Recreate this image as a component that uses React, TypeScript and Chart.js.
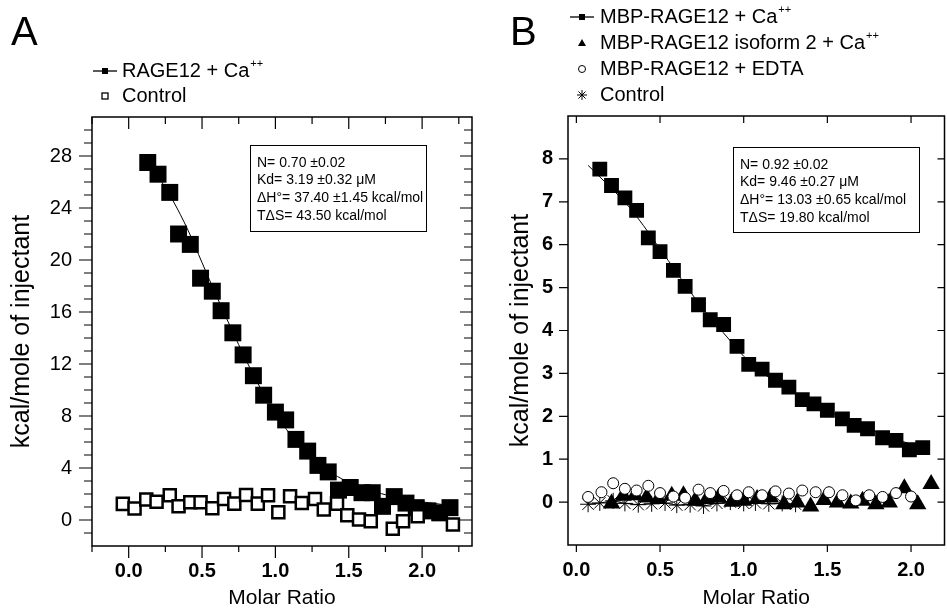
import React, { useEffect, useRef } from 'react';
import { Chart, registerables } from 'chart.js';

Chart.register(...registerables);

const FONT = "'Liberation Sans', Arial, Helvetica, sans-serif";

// ---------------- Panel A data ----------------
const aFilledX = [0.13, 0.20, 0.28, 0.34, 0.42, 0.49, 0.57, 0.63, 0.71, 0.78, 0.85, 0.92, 1.00, 1.07, 1.14, 1.22, 1.29, 1.36, 1.43, 1.51, 1.59, 1.66, 1.73, 1.81, 1.89, 1.96, 2.04, 2.12, 2.19];
const aFilledY = [27.5, 26.6, 25.2, 22.0, 21.2, 18.6, 17.6, 16.1, 14.4, 12.7, 11.1, 9.6, 8.3, 7.7, 6.2, 5.3, 4.2, 3.7, 2.3, 2.5, 2.1, 2.1, 1.05, 1.8, 1.3, 0.95, 0.7, 0.55, 0.95];
const aControlX = [-0.04, 0.04, 0.12, 0.19, 0.28, 0.34, 0.42, 0.49, 0.57, 0.65, 0.72, 0.80, 0.88, 0.95, 1.02, 1.10, 1.18, 1.27, 1.33, 1.42, 1.49, 1.57, 1.65, 1.80, 1.87, 1.97, 2.21];
const aControlY = [1.24, 0.88, 1.57, 1.41, 1.9, 1.06, 1.36, 1.36, 0.9, 1.62, 1.26, 1.93, 1.26, 1.9, 0.6, 1.82, 1.31, 1.62, 0.8, 1.26, 0.37, 0.04, -0.09, -0.67, -0.09, 0.29, -0.34];
const aFitX = [0.08, 0.2, 0.3, 0.4, 0.5, 0.6, 0.7, 0.8, 0.9, 1.0, 1.1, 1.2, 1.3, 1.4, 1.5, 1.6, 1.7, 1.8, 1.9, 2.0, 2.1, 2.2];
const aFitY = [27.9, 26.4, 24.6, 22.4, 19.8, 17.2, 14.7, 12.3, 10.1, 8.2, 6.6, 5.3, 4.3, 3.5, 2.9, 2.45, 2.1, 1.8, 1.6, 1.4, 1.25, 1.1];
const aXTicks = [0, 0.5, 1, 1.5, 2];
const aXMinor = [-0.25, 0.25, 0.75, 1.25, 1.75, 2.25];
const aYTicks = [0, 4, 8, 12, 16, 20, 24, 28];
const aYMinor = [-1, 1, 2, 3, 5, 6, 7, 9, 10, 11, 13, 14, 15, 17, 18, 19, 21, 22, 23, 25, 26, 27, 29, 30];
const aLegend = ['RAGE12 + Ca⁺⁺', 'Control'];
const aNotes = ['N= 0.70 ±0.02', 'Kd= 3.19 ±0.32 μM', 'ΔH°= 37.40 ±1.45 kcal/mol', 'TΔS= 43.50 kcal/mol'];

// ---------------- Panel B data ----------------
const bFilledX = [0.14, 0.21, 0.29, 0.36, 0.43, 0.50, 0.58, 0.65, 0.73, 0.80, 0.88, 0.96, 1.03, 1.11, 1.19, 1.27, 1.35, 1.42, 1.50, 1.59, 1.66, 1.74, 1.83, 1.91, 1.99, 2.07];
const bFilledY = [7.76, 7.38, 7.09, 6.80, 6.16, 5.84, 5.40, 5.03, 4.60, 4.25, 4.14, 3.63, 3.21, 3.10, 2.84, 2.68, 2.39, 2.29, 2.14, 1.94, 1.79, 1.71, 1.50, 1.44, 1.22, 1.27];
const bFitX = [0.07, 0.2, 0.3, 0.4, 0.5, 0.6, 0.7, 0.8, 0.9, 1.0, 1.1, 1.2, 1.3, 1.4, 1.5, 1.6, 1.7, 1.8, 1.9, 2.0, 2.08];
const bFitY = [7.85, 7.35, 6.95, 6.45, 5.9, 5.35, 4.8, 4.3, 3.85, 3.4, 3.05, 2.78, 2.55, 2.33, 2.13, 1.95, 1.78, 1.62, 1.48, 1.35, 1.25];
const bTriX = [0.21, 0.28, 0.35, 0.42, 0.49, 0.57, 0.64, 0.71, 0.78, 0.85, 0.93, 1.00, 1.08, 1.16, 1.24, 1.32, 1.40, 1.48, 1.56, 1.64, 1.71, 1.79, 1.87, 1.96, 2.04, 2.12];
const bTriY = [-0.03, 0.15, 0.16, 0.11, 0.07, 0.15, 0.16, 0.03, 0.07, 0.11, 0.01, 0.03, 0.07, 0.11, -0.05, -0.01, -0.1, 0.05, -0.01, -0.03, 0.03, -0.05, -0.01, 0.32, -0.05, 0.42];
const bCircX = [0.07, 0.15, 0.22, 0.29, 0.36, 0.43, 0.50, 0.58, 0.65, 0.73, 0.80, 0.88, 0.96, 1.03, 1.11, 1.19, 1.27, 1.35, 1.43, 1.51, 1.59, 1.67, 1.75, 1.83, 1.91, 2.00];
const bCircY = [0.12, 0.23, 0.44, 0.31, 0.27, 0.38, 0.21, 0.13, 0.10, 0.29, 0.21, 0.26, 0.16, 0.23, 0.16, 0.25, 0.20, 0.27, 0.23, 0.23, 0.16, 0.04, 0.16, 0.12, 0.21, 0.13];
const bCtrlX = [0.07, 0.14, 0.22, 0.29, 0.37, 0.45, 0.53, 0.60, 0.68, 0.76, 0.84, 0.92, 1.00, 1.07, 1.15, 1.23, 1.31];
const bCtrlY = [-0.05, -0.02, 0.03, -0.03, -0.06, -0.04, -0.02, -0.07, -0.06, -0.09, -0.03, 0.0, -0.03, -0.02, -0.04, -0.03, -0.05];
const bXTicks = [0, 0.5, 1, 1.5, 2];
const bYTicks = [0, 1, 2, 3, 4, 5, 6, 7, 8];
const bLegend = ['MBP-RAGE12 + Ca⁺⁺', 'MBP-RAGE12 isoform 2 + Ca⁺⁺', 'MBP-RAGE12 + EDTA', 'Control'];
const bNotes = ['N= 0.92 ±0.02', 'Kd= 9.46 ±0.27 μM', 'ΔH°= 13.03 ±0.65 kcal/mol', 'TΔS= 19.80 kcal/mol'];

const pts = (xs: number[], ys: number[]) => xs.map((x, i) => ({ x, y: ys[i] }));

function drawSupText(ctx: CanvasRenderingContext2D, label: string, x: number, y: number, size: number) {
  const parts = label.split('⁺⁺');
  ctx.font = `${size}px ${FONT}`;
  ctx.textBaseline = 'middle';
  ctx.textAlign = 'left';
  ctx.fillStyle = '#000';
  ctx.fillText(parts[0], x, y);
  if (label.indexOf('⁺⁺') >= 0) {
    const w = ctx.measureText(parts[0]).width;
    ctx.font = `${Math.round(size * 0.55)}px ${FONT}`;
    ctx.fillText('++', x + w + 1, y - size * 0.36);
  }
}

function drawMarker(ctx: CanvasRenderingContext2D, kind: string, cx: number, cy: number) {
  ctx.save();
  ctx.strokeStyle = '#000';
  ctx.fillStyle = '#000';
  ctx.lineWidth = 1.3;
  if (kind === 'lineRect') {
    ctx.beginPath();
    ctx.moveTo(cx - 12, cy);
    ctx.lineTo(cx + 12, cy);
    ctx.stroke();
    ctx.fillRect(cx - 3, cy - 3, 6, 6);
  } else if (kind === 'openRect') {
    ctx.strokeRect(cx - 3, cy - 3, 6, 6);
  } else if (kind === 'triangle') {
    ctx.beginPath();
    ctx.moveTo(cx, cy - 4);
    ctx.lineTo(cx + 4, cy + 3);
    ctx.lineTo(cx - 4, cy + 3);
    ctx.closePath();
    ctx.fill();
  } else if (kind === 'circle') {
    ctx.lineWidth = 1;
    ctx.beginPath();
    ctx.arc(cx, cy, 3.5, 0, Math.PI * 2);
    ctx.stroke();
  } else if (kind === 'star') {
    ctx.lineWidth = 1;
    ctx.beginPath();
    for (let k = 0; k < 4; k++) {
      const a = (k * Math.PI) / 4;
      ctx.moveTo(cx - Math.cos(a) * 5, cy - Math.sin(a) * 5);
      ctx.lineTo(cx + Math.cos(a) * 5, cy + Math.sin(a) * 5);
    }
    ctx.stroke();
  }
  ctx.restore();
}

type FrameCfg = {
  id: string;
  xMajor: number[];
  xMinor: number[];
  yMajor: number[];
  yMinor: number[];
  xOutMajor: number; xOutMinor: number; xInMajor: number; xInMinor: number;
  yOutMajor: number; yOutMinor: number; yInMajor: number; yInMinor: number;
  letter: string; letterX: number;
  legend: { label: string; marker: string; y: number }[];
  legendMarkerX: number; legendTextX: number;
  notes: string[];
  box: { l: number; t: number; r: number; b: number };
};

function framePlugin(cfg: FrameCfg) {
  return {
    id: cfg.id,
    afterDraw(chart: any) {
      const { ctx, chartArea } = chart;
      const { left, right, top, bottom } = chartArea;
      const xs = chart.scales.x;
      const ys = chart.scales.y;
      ctx.save();
      ctx.strokeStyle = '#000';
      ctx.lineWidth = 1.5;
      ctx.strokeRect(left, top, right - left, bottom - top);
      ctx.lineWidth = 1.2;
      ctx.beginPath();
      const xt = (vals: number[], out: number, inn: number) => {
        vals.forEach((v) => {
          const p = xs.getPixelForValue(v);
          ctx.moveTo(p, bottom);
          ctx.lineTo(p, bottom + out);
          ctx.moveTo(p, top);
          ctx.lineTo(p, top + inn);
        });
      };
      const yt = (vals: number[], out: number, inn: number) => {
        vals.forEach((v) => {
          const p = ys.getPixelForValue(v);
          ctx.moveTo(left - out, p);
          ctx.lineTo(left, p);
          ctx.moveTo(right - inn, p);
          ctx.lineTo(right, p);
        });
      };
      xt(cfg.xMajor, cfg.xOutMajor, cfg.xInMajor);
      xt(cfg.xMinor, cfg.xOutMinor, cfg.xInMinor);
      yt(cfg.yMajor, cfg.yOutMajor, cfg.yInMajor);
      yt(cfg.yMinor, cfg.yOutMinor, cfg.yInMinor);
      ctx.stroke();

      // panel letter
      ctx.fillStyle = '#000';
      ctx.font = `40px ${FONT}`;
      ctx.textAlign = 'left';
      ctx.textBaseline = 'alphabetic';
      ctx.fillText(cfg.letter, cfg.letterX, 45);

      // legend
      cfg.legend.forEach((it) => {
        drawMarker(ctx, it.marker, cfg.legendMarkerX, it.y);
        drawSupText(ctx, it.label, cfg.legendTextX, it.y, 20);
      });

      // annotation box
      const b = cfg.box;
      ctx.lineWidth = 1;
      ctx.strokeStyle = '#000';
      ctx.fillStyle = '#fff';
      ctx.fillRect(b.l, b.t, b.r - b.l, b.b - b.t);
      ctx.strokeRect(b.l + 0.5, b.t + 0.5, b.r - b.l, b.b - b.t);
      ctx.fillStyle = '#000';
      ctx.font = `14px ${FONT}`;
      ctx.textBaseline = 'middle';
      cfg.notes.forEach((n, i) => {
        ctx.fillText(n, b.l + 7, b.t + 18 + i * 17.6);
      });
      ctx.restore();
    },
  };
}

function axisCommon(
  min: number, max: number, tickVals: number[], size: number, bold: boolean,
  pad: number, fmt: (v: number) => string, title: string, titleSize: number, titlePad: number, fit: (s: any) => void
) {
  return {
    type: 'linear',
    min,
    max,
    afterBuildTicks: (s: any) => {
      s.ticks = tickVals.map((v) => ({ value: v }));
    },
    afterFit: fit,
    grid: { display: false, drawTicks: false },
    border: { display: false },
    ticks: {
      color: '#000',
      font: { family: FONT, size, weight: bold ? 'bold' : 'normal' },
      padding: pad,
      autoSkip: false,
      maxRotation: 0,
      callback: (v: any) => fmt(Number(v)),
    },
    title: {
      display: true,
      text: title,
      color: '#000',
      font: { family: FONT, size: titleSize, lineHeight: 1 },
      padding: { top: titlePad, bottom: 0 },
    },
  };
}

export default function App() {
  const refA = useRef<HTMLCanvasElement>(null);
  const refB = useRef<HTMLCanvasElement>(null);

  useEffect(() => {
    const chartA = new Chart(refA.current as HTMLCanvasElement, {
      type: 'scatter',
      data: {
        datasets: [
          {
            label: 'RAGE12 + Ca⁺⁺ fit',
            data: pts(aFitX, aFitY),
            showLine: true,
            pointRadius: 0,
            borderColor: '#000',
            borderWidth: 1,
            tension: 0.3,
            order: 3,
          } as any,
          {
            label: aLegend[0],
            data: pts(aFilledX, aFilledY),
            pointStyle: 'rect',
            pointRadius: 12,
            backgroundColor: '#000',
            borderColor: '#000',
            borderWidth: 0,
            order: 2,
          },
          {
            label: aLegend[1],
            data: pts(aControlX, aControlY),
            pointStyle: 'rect',
            pointRadius: 8.5,
            backgroundColor: '#fff',
            borderColor: '#000',
            borderWidth: 2.5,
            order: 1,
          },
        ],
      },
      options: {
        responsive: false,
        animation: false,
        layout: { padding: { left: 0, top: 117, right: 33, bottom: 0 } },
        plugins: { legend: { display: false }, tooltip: { enabled: false } },
        scales: {
          x: axisCommon(-0.25, 2.34, aXTicks, 20, true, 13, (v) => v.toFixed(1), 'Molar Ratio', 21, 0, (s: any) => { s.height = 63; }) as any,
          y: axisCommon(-2, 31, aYTicks, 20, false, 20, (v) => String(v), 'kcal/mole of injectant', 25, 9.5, (s: any) => { s.width = 92; }) as any,
        },
      },
      plugins: [
        framePlugin({
          id: 'frameA',
          xMajor: aXTicks, xMinor: aXMinor, yMajor: aYTicks, yMinor: aYMinor,
          xOutMajor: 12, xOutMinor: 6, xInMajor: 12, xInMinor: 7,
          yOutMajor: 13, yOutMinor: 8, yInMajor: 12, yInMinor: 8,
          letter: 'A', letterX: 11,
          legend: [
            { label: aLegend[0], marker: 'lineRect', y: 71 },
            { label: aLegend[1], marker: 'openRect', y: 96 },
          ],
          legendMarkerX: 105, legendTextX: 122,
          notes: aNotes,
          box: { l: 250, t: 145, r: 426, b: 231 },
        }),
      ],
    } as any);

    const chartB = new Chart(refB.current as HTMLCanvasElement, {
      type: 'scatter',
      data: {
        datasets: [
          {
            label: 'MBP-RAGE12 + Ca⁺⁺ fit',
            data: pts(bFitX, bFitY),
            showLine: true,
            pointRadius: 0,
            borderColor: '#000',
            borderWidth: 1,
            tension: 0.3,
            order: 5,
          } as any,
          {
            label: bLegend[0],
            data: pts(bFilledX, bFilledY),
            pointStyle: 'rect',
            pointRadius: 10.5,
            backgroundColor: '#000',
            borderColor: '#000',
            borderWidth: 0,
            order: 4,
          },
          {
            label: bLegend[3],
            data: pts(bCtrlX, bCtrlY),
            pointStyle: 'star',
            pointRadius: 8,
            showLine: true,
            backgroundColor: '#000',
            borderColor: '#000',
            borderWidth: 1,
            order: 3,
          },
          {
            label: bLegend[1],
            data: pts(bTriX, bTriY),
            pointStyle: 'triangle',
            pointRadius: 10,
            backgroundColor: '#000',
            borderColor: '#000',
            borderWidth: 0,
            order: 2,
          },
          {
            label: bLegend[2],
            data: pts(bCircX, bCircY),
            pointStyle: 'circle',
            pointRadius: 5.5,
            backgroundColor: '#fff',
            borderColor: '#000',
            borderWidth: 1,
            order: 1,
          },
        ],
      },
      options: {
        responsive: false,
        animation: false,
        layout: { padding: { left: 0, top: 116, right: 6.3, bottom: 0 } },
        plugins: { legend: { display: false }, tooltip: { enabled: false } },
        scales: {
          x: axisCommon(-0.05, 2.2, bXTicks, 20, true, 13, (v) => v.toFixed(1), 'Molar Ratio', 21, 0, (s: any) => { s.height = 64; }) as any,
          y: axisCommon(-1, 9, bYTicks, 20, true, 15, (v) => String(v), 'kcal/mole of injectant', 25, 4, (s: any) => { s.width = 63; }) as any,
        },
      },
      plugins: [
        framePlugin({
          id: 'frameB',
          xMajor: bXTicks, xMinor: [], yMajor: bYTicks, yMinor: [],
          xOutMajor: 7, xOutMinor: 0, xInMajor: 7, xInMinor: 0,
          yOutMajor: 9, yOutMinor: 0, yInMajor: 7, yInMinor: 0,
          letter: 'B', letterX: 5,
          legend: [
            { label: bLegend[0], marker: 'lineRect', y: 17 },
            { label: bLegend[1], marker: 'triangle', y: 43 },
            { label: bLegend[2], marker: 'circle', y: 69 },
            { label: bLegend[3], marker: 'star', y: 95 },
          ],
          legendMarkerX: 77, legendTextX: 95,
          notes: bNotes,
          box: { l: 228, t: 147, r: 414, b: 232 },
        }),
      ],
    } as any);

    return () => {
      chartA.destroy();
      chartB.destroy();
    };
  }, []);

  return (
    <div style={{ position: 'absolute', left: 0, top: 0, width: 947, height: 609, overflow: 'hidden', background: '#fff' }}>
      <canvas ref={refA} width={505} height={609} style={{ position: 'absolute', left: 0, top: 0 }} />
      <canvas ref={refB} width={450} height={609} style={{ position: 'absolute', left: 505, top: 0 }} />
    </div>
  );
}
